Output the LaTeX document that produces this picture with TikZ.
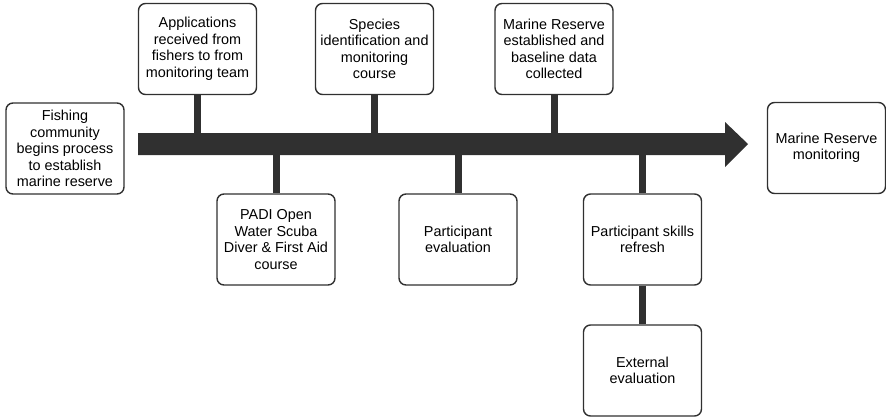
\documentclass[tikz,border=0pt]{standalone}
\usepackage{fontspec}
\setmainfont{Liberation Sans}
\usepackage{tikz}
\usetikzlibrary{positioning}
\definecolor{bardark}{HTML}{303030}

\begin{document}
\begin{tikzpicture}[x=1pt,y=-1pt,
  stage/.style={draw=bardark,line width=1.4pt,rounded corners=7pt,fill=white,
    align=center,minimum width=118pt,minimum height=91pt,inner sep=2pt,
    font=\fontsize{14.4}{16.5}\selectfont},
  stem/.style={draw=bardark,line width=7pt}]
\useasboundingbox (0,0) rectangle (886,418);
%
\coordinate (bar) at (138,144);
\coordinate (barend) at (725,144);
\coordinate (tip) at (748,144);
\fill[bardark] ([yshift=11pt]bar) -- ([yshift=11pt]barend) -- ([yshift=22pt]barend)
  -- (tip) -- ([yshift=-23pt]barend) -- ([yshift=-11pt]barend) -- ([yshift=-11pt]bar) -- cycle;
%
\node[stage] (fish) at (65,148.5) {Fishing\\community\\begins process\\to establish\\marine reserve};
\node[stage] (apps) at (197.5,49) {Applications\\received from\\fishers to from\\monitoring team};
\node[stage] (species) at (374.5,49) {Species\\identification and\\monitoring\\course};
\node[stage] (established) at (554,49) {Marine Reserve\\established and\\baseline data\\collected};
\node[stage] (monitor) at (826.5,148) {Marine Reserve\\monitoring};
\node[stage] (padi) at (276,239.5) {PADI Open\\Water Scuba\\Diver \& First Aid\\course};
\node[stage] (parteval) at (458,239.5) {Participant\\evaluation};
\node[stage] (refresh) at (642.5,239.5) {Participant skills\\refresh};
\node[stage] (external) at (642.5,370.5) {External\\evaluation};
%
\draw[stem] (apps.south) -- (apps.south |- bar);
\draw[stem] (species.south) -- (species.south |- bar);
\draw[stem] (established.south) -- (established.south |- bar);
\draw[stem] (padi.north) -- (padi.north |- bar);
\draw[stem] (parteval.north) -- (parteval.north |- bar);
\draw[stem] (refresh.north) -- (refresh.north |- bar);
\draw[stem] (refresh.south) -- (external.north);
\end{tikzpicture}
\end{document}
